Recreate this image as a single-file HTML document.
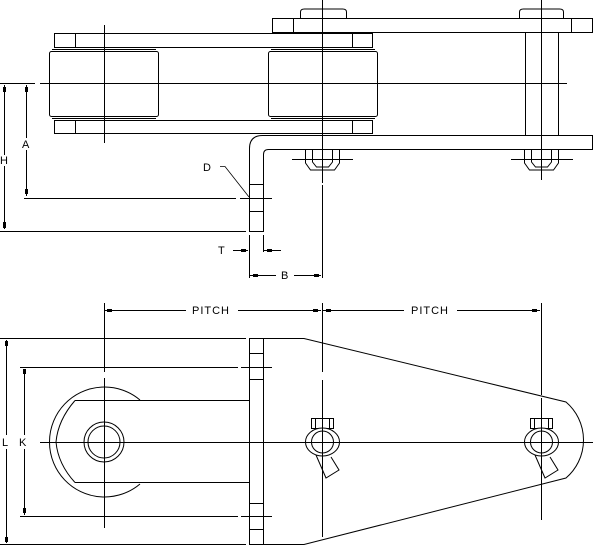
<!DOCTYPE html>
<html><head><style>html,body{margin:0;padding:0;background:#fff}svg{display:block}</style></head><body>
<svg width="600" height="545" viewBox="0 0 600 545" xmlns="http://www.w3.org/2000/svg" fill="none" stroke="#000" stroke-width="1" font-family="Liberation Sans, sans-serif" font-size="11">
<!-- TOP VIEW -->
<rect x="272.5" y="18.5" width="320" height="14"/>
<line x1="293.5" y1="18" x2="293.5" y2="32"/><line x1="571.5" y1="18" x2="571.5" y2="32"/>
<path d="M300.5 18v-6q0-3 4-3h38q4 0 4 3v6"/>
<path d="M519.5 18v-6q0-3 4-3h36q4 0 4 3v6"/>
<rect x="54.5" y="33.5" width="318" height="14"/>
<line x1="75.5" y1="33" x2="75.5" y2="47"/><line x1="352.5" y1="33" x2="352.5" y2="47"/>
<rect x="54.5" y="120.5" width="318" height="13"/>
<line x1="75.5" y1="120" x2="75.5" y2="133"/><line x1="352.5" y1="120" x2="352.5" y2="133"/>
<rect x="49.5" y="51.5" width="109" height="65" rx="2" fill="#fff"/>
<line x1="52" y1="49.5" x2="156" y2="49.5"/><line x1="52" y1="118.5" x2="156" y2="118.5"/>
<rect x="268.5" y="51.5" width="109" height="65" rx="2" fill="#fff"/>
<line x1="271" y1="49.5" x2="375" y2="49.5"/><line x1="271" y1="118.5" x2="375" y2="118.5"/>
<line x1="525.5" y1="32" x2="525.5" y2="135"/><line x1="558.5" y1="32" x2="558.5" y2="135"/>
<path d="M592.5 135.5H262.5q-13 0-13 13V231.5h14V154.5q0-5 5-5H592.5z"/>
<line x1="249" y1="184.5" x2="263" y2="184.5"/><line x1="249" y1="211.5" x2="263" y2="211.5"/>
<path d="M305.5 149v14l5 7h24l5-7v-14"/><path d="M312.5 149v13l4 5h12l4-5v-13"/>
<path d="M524.5 149v14l5 7h24l5-7v-14"/><path d="M531.5 149v13l4 5h12l4-5v-13"/>
<line x1="292" y1="159.5" x2="353" y2="159.5"/><line x1="511" y1="159.5" x2="573" y2="159.5"/>
<line x1="40" y1="83.5" x2="567" y2="83.5"/><line x1="0" y1="83.5" x2="35" y2="83.5"/>
<line x1="104.5" y1="25" x2="104.5" y2="143"/>
<line x1="322.5" y1="0" x2="322.5" y2="183"/><line x1="322.5" y1="185" x2="322.5" y2="278"/>
<line x1="541.5" y1="0" x2="541.5" y2="180"/>
<line x1="24" y1="198.5" x2="236" y2="198.5"/><line x1="240" y1="198.5" x2="272" y2="198.5"/>
<line x1="0" y1="231.5" x2="246" y2="231.5"/>
<line x1="4.5" y1="85" x2="4.5" y2="155"/><line x1="4.5" y1="166" x2="4.5" y2="229"/>
<line x1="26.5" y1="85" x2="26.5" y2="138"/><line x1="26.5" y1="150" x2="26.5" y2="196"/>
<g fill="#000" stroke="none">
<rect x="3" y="87" width="3" height="5"/><rect x="3" y="222" width="3" height="6"/>
<rect x="25" y="87" width="3" height="5"/><rect x="25" y="189" width="3" height="5"/>
</g>
<text x="0" y="164" fill="#000" stroke="none">H</text>
<text x="22" y="148" fill="#000" stroke="none">A</text>
<text x="203" y="171" fill="#000" stroke="none">D</text>
<polyline points="220,166.5 225,166.5 249,197" stroke-width="0.8"/>
<line x1="249.5" y1="235" x2="249.5" y2="278"/><line x1="263.5" y1="235" x2="263.5" y2="252"/>
<line x1="233" y1="250.5" x2="248" y2="250.5"/><line x1="264" y1="250.5" x2="281" y2="250.5"/>
<text x="218" y="254" fill="#000" stroke="none">T</text>
<line x1="250" y1="275.5" x2="276" y2="275.5"/><line x1="294" y1="275.5" x2="321" y2="275.5"/>
<text x="281" y="279" fill="#000" stroke="none">B</text>
<g fill="#000" stroke="none"><rect x="241" y="249" width="5" height="3"/><rect x="267" y="249" width="5" height="3"/><rect x="253" y="274" width="5" height="3"/><rect x="314" y="274" width="5" height="3"/></g>
<!-- BOTTOM VIEW -->
<line x1="104.5" y1="303" x2="104.5" y2="372"/><line x1="104.5" y1="378" x2="104.5" y2="528"/>
<line x1="322.5" y1="303" x2="322.5" y2="372"/><line x1="322.5" y1="380" x2="322.5" y2="537"/>
<line x1="541.5" y1="303" x2="541.5" y2="395"/><line x1="541.5" y1="398" x2="541.5" y2="520"/>
<line x1="105" y1="310.5" x2="186" y2="310.5"/><line x1="238" y1="310.5" x2="321" y2="310.5"/>
<line x1="323" y1="310.5" x2="404" y2="310.5"/><line x1="457" y1="310.5" x2="540" y2="310.5"/>
<text x="192" y="314" fill="#000" stroke="none" letter-spacing="1">PITCH</text>
<text x="411" y="314" fill="#000" stroke="none" letter-spacing="1">PITCH</text>
<g fill="#000" stroke="none"><rect x="107" y="309" width="5" height="3"/><rect x="313" y="309" width="5" height="3"/><rect x="326" y="309" width="5" height="3"/><rect x="532" y="309" width="5" height="3"/>
<rect x="5" y="341" width="3" height="5"/><rect x="5" y="537" width="3" height="5"/><rect x="23" y="369" width="3" height="5"/><rect x="23" y="508" width="3" height="5"/></g>
<line x1="0" y1="338.5" x2="246" y2="338.5"/><line x1="0" y1="544.5" x2="246" y2="544.5"/>
<line x1="20" y1="367.5" x2="238" y2="367.5"/><line x1="241" y1="367.5" x2="272" y2="367.5"/>
<line x1="20" y1="516.5" x2="238" y2="516.5"/><line x1="241" y1="516.5" x2="272" y2="516.5"/>
<line x1="6.5" y1="340" x2="6.5" y2="435"/><line x1="6.5" y1="449" x2="6.5" y2="543"/>
<line x1="24.5" y1="369" x2="24.5" y2="435"/><line x1="24.5" y1="449" x2="24.5" y2="515"/>
<text x="2" y="446" fill="#000" stroke="none">L</text>
<text x="19" y="446" fill="#000" stroke="none">K</text>
<path d="M263 338.5H304L566 402A50 50 0 0 1 566 478L304 544.5H263"/>
<rect x="249.5" y="338.5" width="14" height="206"/>
<line x1="249" y1="353.5" x2="263" y2="353.5"/><line x1="249" y1="379.5" x2="263" y2="379.5"/>
<line x1="249" y1="503.5" x2="263" y2="503.5"/><line x1="249" y1="529.5" x2="263" y2="529.5"/>
<path d="M140 400A55 55 0 1 0 140 484"/>
<path d="M75 400.5Q58 420 56 442Q58 464 75 482.5"/>
<line x1="75" y1="400.5" x2="249" y2="400.5"/><line x1="75" y1="482.5" x2="249" y2="482.5"/>
<circle cx="104" cy="442" r="20"/><circle cx="104" cy="442" r="16"/>
<line x1="40" y1="442.5" x2="593" y2="442.5"/>
<g id="w">
<rect x="311.5" y="418.5" width="22" height="10"/><line x1="315.5" y1="418" x2="315.5" y2="428"/><line x1="329.5" y1="418" x2="329.5" y2="428"/>
<ellipse cx="322.5" cy="442" rx="17" ry="14" fill="#fff"/><circle cx="322.5" cy="442" r="11"/>
<polyline points="316,455 326,478 339,470 331,457"/>
</g>
<use href="#w" transform="translate(219,0)"/>
<line x1="300" y1="442.5" x2="345" y2="442.5"/><line x1="519" y1="442.5" x2="564" y2="442.5"/>
<line x1="322.5" y1="410" x2="322.5" y2="480"/><line x1="541.5" y1="410" x2="541.5" y2="480"/>
</svg>
</body></html>
